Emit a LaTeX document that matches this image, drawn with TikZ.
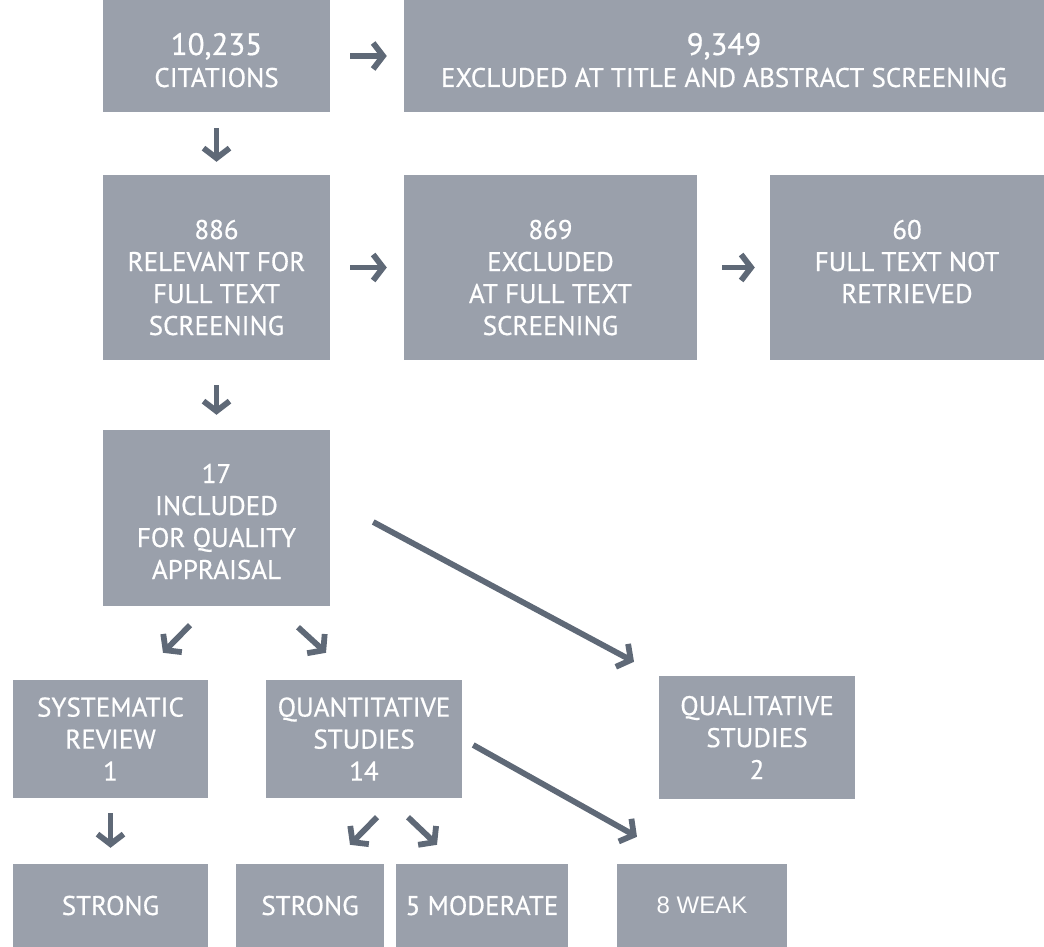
\documentclass[tikz,border=0pt]{standalone}
\usepackage{fontspec}
\setmainfont{PT Sans}[FakeBold=0.6]
\newfontfamily\plainfont{Liberation Sans}
\definecolor{boxgray}{RGB}{154, 160, 171}
\definecolor{arrowgray}{RGB}{95, 105, 119}
\usetikzlibrary{arrows.meta, calc}

\tikzset{
  stage/.style={fill=boxgray, text=white, align=center, inner sep=0pt, font=\fontsize{27}{32}\selectfont},
  textspan/.style 2 args={execute at begin node={\rule{0pt}{#1}}, execute at end node={\rule[-#2]{0pt}{0pt}}},
  flow/.style={draw=arrowgray, line width=5.8pt, -{Straight Barb[length=10pt, width=26pt]}}
}

\begin{document}
\begin{tikzpicture}[x=1pt, y=-1pt]
  \useasboundingbox (0,0) rectangle (1044,947);

  % first row
  \node[stage, textspan={80pt}{18pt}, minimum width=227pt, minimum height=112pt] (cit) at (216.5, 56) {{\fontsize{31}{32}\selectfont 10,235}\\CITATIONS};
  \node[stage, textspan={80pt}{18pt}, minimum width=640pt, minimum height=112pt] (excltitle) at (724, 56) {{\fontsize{31}{32}\selectfont 9,349}\\EXCLUDED AT TITLE AND ABSTRACT SCREENING};

  % second row
  \node[stage, textspan={150pt}{15pt}, minimum width=227pt, minimum height=185pt] (relevant) at (216.5, 267.5) {886\\RELEVANT FOR\\FULL TEXT\\SCREENING};
  \node[stage, textspan={150pt}{15pt}, minimum width=293pt, minimum height=185pt] (exclfull) at (550.5, 267.5) {869\\EXCLUDED\\AT FULL TEXT\\SCREENING};
  \node[stage, textspan={110pt}{39pt}, minimum width=274pt, minimum height=185pt] (notret) at (907, 267.5) {60\\FULL TEXT NOT\\RETRIEVED};

  % third row
  \node[stage, textspan={140pt}{18pt}, minimum width=227pt, minimum height=176pt] (included) at (216.5, 518) {17\\INCLUDED\\FOR QUALITY\\APPRAISAL};

  % study types
  \node[stage, minimum width=195pt, minimum height=118pt] (sysrev) at (110.5, 739) {SYSTEMATIC\\REVIEW\\1};
  \node[stage, minimum width=196pt, minimum height=118pt] (quant) at (364, 739) {QUANTITATIVE\\STUDIES\\14};
  \node[stage, minimum width=196pt, minimum height=123pt] (qual) at (757, 737.5) {QUALITATIVE\\STUDIES\\2};

  % quality ratings
  \node[stage, minimum width=195pt, minimum height=83pt] (strongsys) at (110.5, 905.5) {STRONG};
  \node[stage, minimum width=148pt, minimum height=83pt] (strongquant) at (310, 905.5) {STRONG};
  \node[stage, minimum width=172pt, minimum height=83pt] (moderate) at (482, 905.5) {5 MODERATE};
  \node[stage, minimum width=170pt, minimum height=83pt, font=\plainfont\fontsize{24}{28}\selectfont] (weak) at (702, 905.5) {8 WEAK};

  % arrows
  \draw[flow, shorten <=20pt, shorten >=17pt] (cit) -- (excltitle);
  \draw[flow, shorten <=16pt, shorten >=13pt] (cit) -- (relevant);
  \draw[flow, shorten <=20pt, shorten >=17pt] (relevant) -- (exclfull);
  \draw[flow, shorten <=25pt, shorten >=15pt] (exclfull) -- (notret);
  \draw[flow, shorten <=25pt, shorten >=15pt] (relevant) -- (included);
  \draw[flow] ($(included.south)+(-26.5,19)$) -- ($(sysrev.north)+(52.5,-27)$);
  \draw[flow] ($(included.south)+(81.5,21)$) -- ($(quant.north)+(-38,-27)$);
  \draw[flow] ($(included.east)+(43,4)$) -- ($(qual.north)+(-123,-14)$);
  \draw[flow, shorten <=15pt, shorten >=16pt] (sysrev) -- (strongsys);
  \draw[flow] ($(quant.south)+(13,19)$) -- ($(strongquant.north)+(40,-19)$);
  \draw[flow] ($(quant.south)+(44,19)$) -- ($(moderate.north)+(-45,-19)$);
  \draw[flow] ($(quant.east)+(11,6)$) -- ($(weak.north)+(-65,-27)$);
\end{tikzpicture}
\end{document}
